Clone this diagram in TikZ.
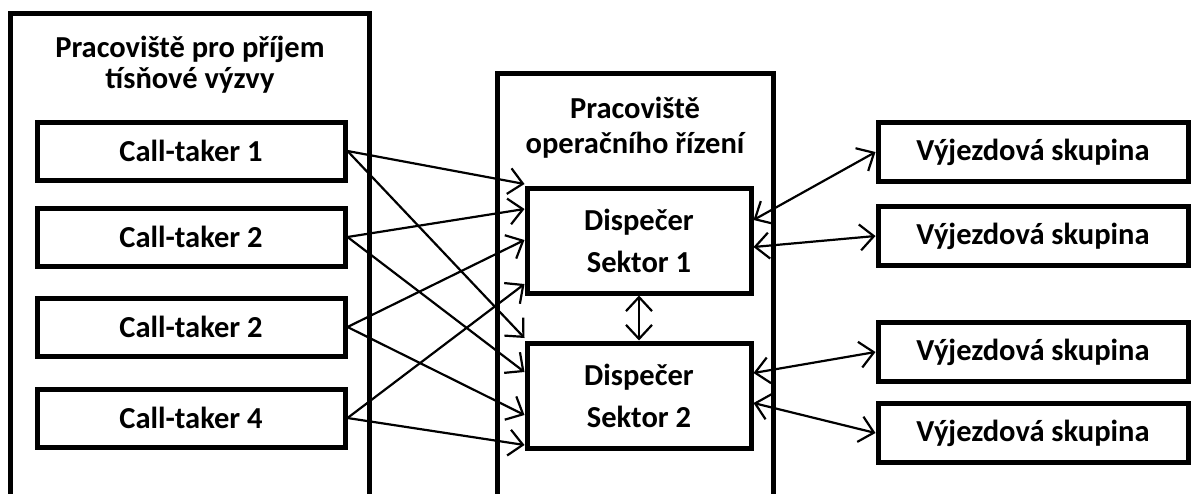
\documentclass[tikz,border=0pt]{standalone}
\usepackage{fontspec}
\setmainfont{Carlito}
\usetikzlibrary{arrows.meta}
\begin{document}
\begin{tikzpicture}[x=1pt,y=-1pt,
  box/.style={draw, line width=5pt, inner sep=0pt, align=center, font=\fontsize{30.5}{36}\selectfont\bfseries},
  ctbox/.style={box, minimum width=308pt, minimum height=58pt},
  dbox/.style={box, minimum width=224pt, minimum height=105pt, font=\fontsize{30.5}{42}\selectfont\bfseries},
  vbox/.style={box, minimum width=310pt, minimum height=59pt},
  frame/.style={line width=5pt},
  title/.style={align=center, inner sep=0pt},
  tip/.tip={Straight Barb[length=14pt,width=26pt]},
  link/.style={line width=2.2pt, -tip},
  dlink/.style={line width=2.2pt, tip-tip}]
\useasboundingbox (0,0) rectangle (1194,493);
\clip (0,0) rectangle (1194,493);
% outer frames (open at the bottom)
\draw[frame] (10,510) -- (10,13) -- (369,13) -- (369,510);
\draw[frame] (497,510) -- (497,73) -- (773,73) -- (773,510);
% titles
\node[title, font=\fontsize{30.5}{31}\selectfont\bfseries] (t1) at (190,65) {Pracoviště pro příjem\\tísňové výzvy};
\node[title, font=\fontsize{30.5}{35}\selectfont\bfseries] (t2) at (635,128) {Pracoviště\\operačního řízení};
% call-takers
\node[ctbox] (c1) at (191,151) {Call-taker 1};
\node[ctbox] (c2) at (191,237) {Call-taker 2};
\node[ctbox] (c3) at (191,327) {Call-taker 2};
\node[ctbox] (c4) at (191,418) {Call-taker 4};
% dispatchers
\node[dbox] (d1) at (639,240.5) {Dispečer\\Sektor 1};
\node[dbox] (d2) at (639,395.5) {Dispečer\\Sektor 2};
% response groups
\node[vbox] (v1) at (1033,152) {Výjezdová skupina};
\node[vbox] (v2) at (1033,236) {Výjezdová skupina};
\node[vbox] (v3) at (1033,352) {Výjezdová skupina};
\node[vbox] (v4) at (1033,433) {Výjezdová skupina};
% call-takers to dispatcher 1
\draw[link] (c1.east) -- (d1.west |- 0,184);
\draw[link] (c2.east) -- (d1.west |- 0,209);
\draw[link] (c3.east) -- (d1.west |- 0,240);
\draw[link] (c4.east) -- (d1.west |- 0,284);
% call-takers to dispatcher 2
\draw[link] (c1.east) -- (d2.west |- 0,338);
\draw[link] (c2.east) -- (d2.west |- 0,372);
\draw[link] (c3.east) -- (d2.west |- 0,415);
\draw[link] (c4.east) -- (d2.west |- 0,445);
% between dispatchers
\draw[dlink] (d1.south) -- (d2.north);
% dispatchers to response groups
\draw[dlink] (d1.east |- 0,220) -- (v1.west);
\draw[dlink] (d1.east |- 0,247) -- (v2.west);
\draw[dlink] (d2.east |- 0,373) -- (v3.west);
\draw[dlink] (d2.east |- 0,403) -- (v4.west);
\end{tikzpicture}
\end{document}
